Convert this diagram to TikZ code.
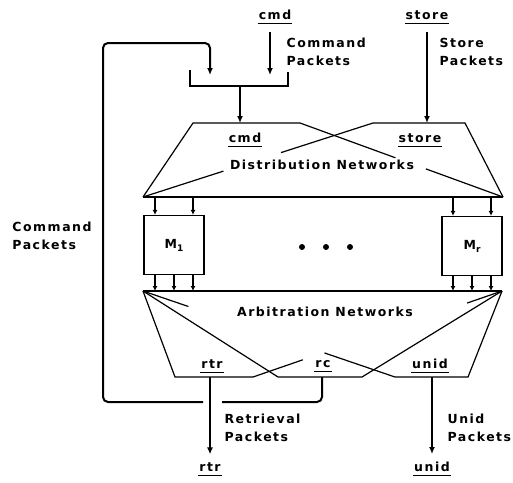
\documentclass[tikz,border=0pt]{standalone}
\usepackage{fontspec}
\newfontfamily\lblfont[LetterSpace=12]{DejaVu Sans}
\usetikzlibrary{arrows.meta,calc}
\newcommand\ulab[1]{\underline{\vphantom{p}\kern1pt#1\kern1pt}}

\begin{document}
\begin{tikzpicture}[x=1pt, y=-1pt, line width=1.2pt,
  font=\lblfont\bfseries\fontsize{12.5}{18}\selectfont,
  lb/.style={inner sep=0pt, align=left},
  modbox/.style={rectangle, draw, minimum width=60pt, minimum height=59pt, inner sep=0pt},
  big/.style={-{Latex[length=7pt,width=6pt]}, line width=1.6pt},
  sm/.style={-{Latex[length=5pt,width=5pt]}, line width=1.3pt},
  loopln/.style={line width=2pt, rounded corners=5pt}]
\useasboundingbox (0,0) rectangle (513,482);
% distribution networks
\coordinate (dTL) at (193,123); \coordinate (dTM) at (300,123);
\coordinate (sTL) at (373,123); \coordinate (sTR) at (465,123);
\coordinate (dL) at (143,197); \coordinate (dR) at (503,197);
\draw (dL) -- (dTL) -- (dTM);
\draw (sTL) -- (sTR) -- (dR);
\draw (dL) -- (dR);
\draw (dTM) -- ($(dTM)!0.47!(dR)$) ($(dTM)!0.62!(dR)$) -- (dR);
\draw (sTL) -- ($(sTL)!0.40!(dL)$) ($(sTL)!0.65!(dL)$) -- (dL);
\node (cmdd) at (245,140) {\ulab{cmd}};
\node (stored) at (420,140) {\ulab{store}};
\node (dist) at (322,165) {Distribution Networks};
% modules
\node[modbox] (m1) at (174,245) {M\raisebox{-3pt}{\small 1}};
\node[modbox] (mr) at (472,246) {M\raisebox{-3pt}{\small r}};
\foreach \x in {302,326,350} \fill (\x,247) circle (3pt);
% arbitration networks
\coordinate (aL) at (143,291); \coordinate (aR) at (502,291);
\coordinate (rtrL) at (175,377); \coordinate (rtrR) at (253,377);
\coordinate (rcL) at (278,377); \coordinate (rcR) at (362,377);
\coordinate (unL) at (395,377); \coordinate (unR) at (468,377);
\draw (aL) -- (aR);
\draw (aL) -- (rtrL) -- (rtrR);
\draw (rtrR) -- ($(rtrR)!0.20!(aR)$) ($(rtrR)!0.86!(aR)$) -- (aR);
\draw (aL) -- (rcL) -- (rcR) -- (aR);
\draw (aL) -- ($(aL)!0.18!(unL)$) ($(aL)!0.72!(unL)$) -- (unL);
\draw (unL) -- (unR) -- (aR);
\node (arb) at (325,312) {Arbitration Networks};
\node (rtrb) at (212,366) {\ulab{rtr}};
\node (rcb) at (323,366) {\ulab{rc}};
\node (unidb) at (430,366) {\ulab{unid}};
% module ports
\foreach \b in {m1,mr} {
  \foreach \dx in {-19,19} {
    \path (\b.north) ++(\dx,0) coordinate (t);
    \draw[sm] (t |- dL) -- (t);
  }
  \foreach \dx in {-19,0,19} {
    \path (\b.south) ++(\dx,0) coordinate (t);
    \draw[sm] (t) -- (t |- aL);
  }
}
% inputs
\node (cmdin) at (275,17) {\ulab{cmd}};
\node (storein) at (427,17) {\ulab{store}};
\node[lb, anchor=west] (cmdpk) at (286,52) {Command\\Packets};
\node[lb, anchor=west] (stpk) at (439,52) {Store\\Packets};
\coordinate (cin) at (270,75);
\coordinate (lin) at (210,75);
\coordinate (mrg) at (240,86);
\draw ($(mrg)+(-50,-16)$) |- ($(mrg)+(48,0)$) -- ++(0,-14);
\draw[big, shorten <=4pt] (cin |- cmdin.south) -- (cin);
\draw[big] (mrg) -- (mrg |- dTL);
\draw[big, shorten <=4pt] (storein.south) -- (storein.south |- sTL);
% outputs
\node (rtrout) at (210,469) {\ulab{rtr}};
\node (unidout) at (432,469) {\ulab{unid}};
\draw[big, shorten >=4pt] (rtrout |- rtrL) -- (rtrout.north);
\draw[big, shorten >=4pt] (unidout |- unL) -- (unidout.north);
\node[lb, anchor=west] (retpk) at (224,428) {Retrieval\\Packets};
\node[lb, anchor=west] (unpk) at (447,428) {Unid\\Packets};
% command feedback loop
\coordinate (lpBR) at (322,402); \coordinate (lpBL) at (103,402); \coordinate (lpTL) at (103,43);
\draw[loopln] (lpBR |- rcL) -- (lpBR) -- ($(rtrout |- lpBR)+(12,0)$);
\draw[loopln, -{Latex[length=7pt,width=6pt]}] ($(rtrout |- lpBR)+(-7,0)$) -- (lpBL) -- (lpTL) -- (lpTL -| lin) -- (lin);
\node[lb] (cmdleft) at (52,236) {Command\\Packets};
\end{tikzpicture}
\end{document}
